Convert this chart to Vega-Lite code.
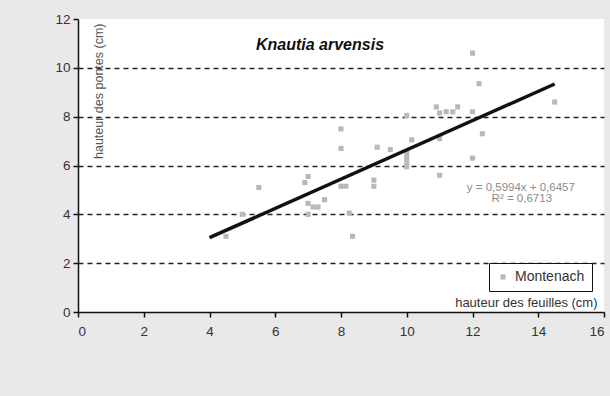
{
  "$schema": "https://vega.github.io/schema/vega-lite/v6.json",
  "autosize": "none",
  "width": 526,
  "height": 293,
  "padding": {"left": 78, "top": 19, "right": 6, "bottom": 84},
  "background": "#e9e9e9",
  "title": {
    "text": "Knautia arvensis",
    "font": "Liberation Sans",
    "fontSize": 16,
    "fontWeight": "bold",
    "fontStyle": "italic",
    "color": "#111",
    "anchor": "middle",
    "dx": -21,
    "offset": -54,
    "baseline": "alphabetic"
  },
  "datasets": {
    "pontes": [
      {"feuilles": 4.5, "pontes": 3.1, "site": "Montenach"},
      {"feuilles": 5.0, "pontes": 4.0, "site": "Montenach"},
      {"feuilles": 5.5, "pontes": 5.1, "site": "Montenach"},
      {"feuilles": 6.9, "pontes": 5.3, "site": "Montenach"},
      {"feuilles": 7.0, "pontes": 5.55, "site": "Montenach"},
      {"feuilles": 7.0, "pontes": 4.45, "site": "Montenach"},
      {"feuilles": 7.15, "pontes": 4.3, "site": "Montenach"},
      {"feuilles": 7.3, "pontes": 4.3, "site": "Montenach"},
      {"feuilles": 7.5, "pontes": 4.6, "site": "Montenach"},
      {"feuilles": 7.0, "pontes": 4.0, "site": "Montenach"},
      {"feuilles": 8.0, "pontes": 7.5, "site": "Montenach"},
      {"feuilles": 8.0, "pontes": 6.7, "site": "Montenach"},
      {"feuilles": 8.0, "pontes": 5.15, "site": "Montenach"},
      {"feuilles": 8.15, "pontes": 5.15, "site": "Montenach"},
      {"feuilles": 8.25, "pontes": 4.05, "site": "Montenach"},
      {"feuilles": 8.35, "pontes": 3.1, "site": "Montenach"},
      {"feuilles": 9.0, "pontes": 5.4, "site": "Montenach"},
      {"feuilles": 9.0, "pontes": 5.15, "site": "Montenach"},
      {"feuilles": 9.1, "pontes": 6.75, "site": "Montenach"},
      {"feuilles": 9.5, "pontes": 6.65, "site": "Montenach"},
      {"feuilles": 10.0, "pontes": 8.05, "site": "Montenach"},
      {"feuilles": 10.15, "pontes": 7.05, "site": "Montenach"},
      {"feuilles": 10.0, "pontes": 6.5, "site": "Montenach"},
      {"feuilles": 10.0, "pontes": 6.3, "site": "Montenach"},
      {"feuilles": 10.0, "pontes": 6.1, "site": "Montenach"},
      {"feuilles": 10.0, "pontes": 5.95, "site": "Montenach"},
      {"feuilles": 10.9, "pontes": 8.4, "site": "Montenach"},
      {"feuilles": 11.0, "pontes": 8.15, "site": "Montenach"},
      {"feuilles": 11.2, "pontes": 8.2, "site": "Montenach"},
      {"feuilles": 11.4, "pontes": 8.2, "site": "Montenach"},
      {"feuilles": 11.55, "pontes": 8.4, "site": "Montenach"},
      {"feuilles": 12.0, "pontes": 8.2, "site": "Montenach"},
      {"feuilles": 11.0, "pontes": 7.1, "site": "Montenach"},
      {"feuilles": 11.0, "pontes": 5.6, "site": "Montenach"},
      {"feuilles": 12.0, "pontes": 6.3, "site": "Montenach"},
      {"feuilles": 12.3, "pontes": 7.3, "site": "Montenach"},
      {"feuilles": 12.0, "pontes": 10.6, "site": "Montenach"},
      {"feuilles": 12.2, "pontes": 9.35, "site": "Montenach"},
      {"feuilles": 14.5, "pontes": 8.6, "site": "Montenach"}
    ],
    "tendance": [
      {"feuilles": 4.0, "pontes": 3.0433},
      {"feuilles": 14.5, "pontes": 9.3370}
    ],
    "equation": [
      {"feuilles": 13.47, "pontes": 5.09, "ligne": "y = 0,5994x + 0,6457"},
      {"feuilles": 13.5, "pontes": 4.64, "ligne": "R² = 0,6713"}
    ]
  },
  "encoding": {
    "x": {
      "field": "feuilles",
      "type": "quantitative",
      "scale": {"domain": [0, 16], "nice": false, "zero": false},
      "axis": {
        "values": [0, 2, 4, 6, 8, 10, 12, 14, 16],
        "title": "hauteur des feuilles (cm)",
        "titleFont": "Liberation Sans",
        "titleFontSize": 13,
        "titleFontWeight": "normal",
        "titleColor": "#333",
        "titleAnchor": null,
        "titleAlign": "right",
        "titleBaseline": "alphabetic",
        "titleX": 519,
        "titleY": -6,
        "labelFont": "Liberation Sans",
        "labelFontSize": 13.5,
        "labelColor": "#333",
        "labelPadding": 7,
        "tickSize": 5,
        "tickColor": "#111",
        "tickWidth": 1.5,
        "domainColor": "#111",
        "domainWidth": 1.5,
        "grid": false
      }
    },
    "y": {
      "field": "pontes",
      "type": "quantitative",
      "scale": {"domain": [0, 12], "nice": false, "zero": false},
      "axis": {
        "values": [0, 2, 4, 6, 8, 10, 12],
        "title": "hauteur des pontes (cm)",
        "titleFont": "Liberation Sans",
        "titleFontSize": 12.5,
        "titleFontWeight": "normal",
        "titleColor": "#555",
        "titleAnchor": null,
        "titleAngle": -90,
        "titleAlign": "right",
        "titleBaseline": "middle",
        "titleX": 20,
        "titleY": 4,
        "labelFont": "Liberation Sans",
        "labelFontSize": 13.5,
        "labelColor": "#333",
        "labelPadding": 3,
        "tickSize": 5,
        "tickColor": "#111",
        "tickWidth": 1.5,
        "domainColor": "#111",
        "domainWidth": 1.5,
        "grid": true,
        "gridColor": "#222",
        "gridWidth": 1.5,
        "gridDash": [5, 4],
        "gridOpacity": {"condition": {"test": "datum.value == 0 || datum.value == 12", "value": 0}, "value": 1}
      }
    }
  },
  "layer": [
    {
      "data": {"name": "pontes"},
      "mark": {"type": "point", "shape": "square", "filled": true, "size": 26, "opacity": 1},
      "encoding": {
        "color": {
          "field": "site",
          "type": "nominal",
          "scale": {"range": ["#b8b8b8"]},
          "legend": {
            "title": null,
            "orient": "none",
            "legendX": 411,
            "legendY": 244,
            "fillColor": "white",
            "strokeColor": "#111",
            "padding": 7,
            "symbolType": "square",
            "symbolSize": 26,
            "labelFont": "Liberation Sans",
            "labelFontSize": 14,
            "labelColor": "#333",
            "labelOffset": 5,
            "encode": {"legend": {"update": {"strokeWidth": {"value": 1.5}}}}
          }
        }
      }
    },
    {
      "data": {"name": "tendance"},
      "mark": {"type": "line", "color": "#111", "strokeWidth": 3.5},
      "encoding": {}
    },
    {
      "data": {"name": "equation"},
      "mark": {
        "type": "text",
        "font": "Liberation Sans",
        "fontSize": 11.5,
        "color": "#8a8a8a",
        "align": "center",
        "baseline": "middle"
      },
      "encoding": {
        "text": {"field": "ligne", "type": "nominal"}
      }
    }
  ],
  "config": {
    "view": {"fill": "white", "stroke": null}
  }
}
